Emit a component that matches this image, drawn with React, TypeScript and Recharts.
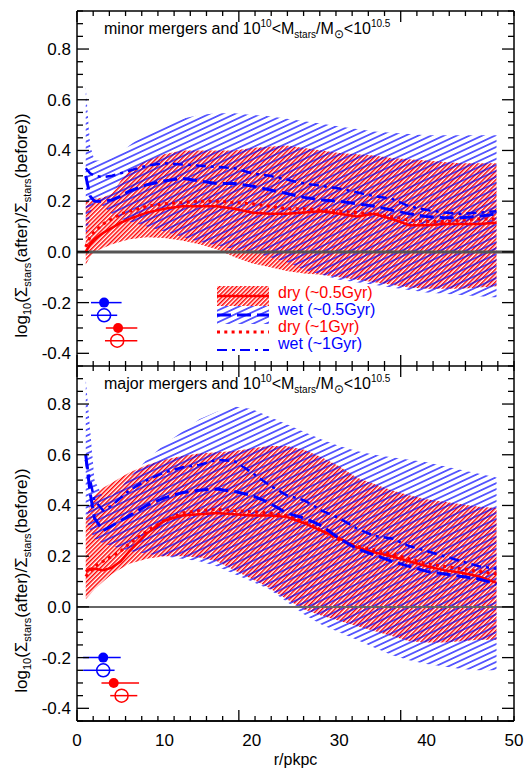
import React from 'react';
import {
  ComposedChart,
  Area,
  Line,
  Scatter,
  ErrorBar,
  XAxis,
  YAxis,
  ReferenceLine,
  Legend,
} from 'recharts';

// radii (pkpc) where the profiles are sampled
const radius = [1, 1.5, 2, 3, 4, 5, 6, 8, 10, 12, 14, 16, 18, 20, 22, 24, 26, 28, 30, 32, 34, 36, 38, 40, 42, 44, 46, 48];

// minor mergers, 10^10 < M*/Msun < 10^10.5
const minorDryLo = [-0.05, -0.02, 0.0, 0.015, 0.03, 0.04, 0.05, 0.058, 0.055, 0.045, 0.03, 0.01, -0.02, -0.045, -0.06, -0.075, -0.085, -0.09, -0.1, -0.11, -0.12, -0.13, -0.14, -0.145, -0.145, -0.145, -0.14, -0.135];
const minorDryHi = [0.2, 0.2, 0.21, 0.215, 0.23, 0.28, 0.32, 0.36, 0.385, 0.4, 0.4, 0.4, 0.4, 0.41, 0.415, 0.42, 0.41, 0.4, 0.39, 0.385, 0.38, 0.37, 0.365, 0.36, 0.355, 0.35, 0.35, 0.35];
const minorWetLo = [0.05, 0.15, 0.2, 0.18, 0.15, 0.13, 0.12, 0.1, 0.08, 0.06, 0.04, 0.025, 0.01, 0.0, -0.02, -0.04, -0.07, -0.09, -0.11, -0.12, -0.13, -0.14, -0.15, -0.16, -0.165, -0.17, -0.175, -0.18];
const minorWetHi = [0.65, 0.42, 0.36, 0.36, 0.37, 0.39, 0.42, 0.47, 0.5, 0.525, 0.54, 0.547, 0.547, 0.54, 0.535, 0.525, 0.515, 0.505, 0.495, 0.485, 0.475, 0.47, 0.465, 0.46, 0.46, 0.46, 0.46, 0.46];
const minorDry05 = [0.0, 0.03, 0.05, 0.075, 0.095, 0.115, 0.13, 0.155, 0.17, 0.18, 0.18, 0.18, 0.17, 0.155, 0.15, 0.15, 0.155, 0.16, 0.15, 0.14, 0.15, 0.13, 0.105, 0.105, 0.11, 0.11, 0.11, 0.115];
const minorDry1 = [0.02, 0.06, 0.08, 0.11, 0.13, 0.15, 0.16, 0.18, 0.19, 0.195, 0.2, 0.2, 0.195, 0.19, 0.18, 0.17, 0.17, 0.165, 0.16, 0.155, 0.15, 0.14, 0.125, 0.12, 0.12, 0.125, 0.13, 0.13];
const minorWet05 = [0.3, 0.22, 0.2, 0.2, 0.205, 0.22, 0.24, 0.265, 0.28, 0.29, 0.28, 0.27, 0.27, 0.26, 0.245, 0.23, 0.215, 0.205, 0.2, 0.19, 0.18, 0.165, 0.15, 0.14, 0.135, 0.135, 0.14, 0.15];
const minorWet1 = [0.33, 0.31, 0.3, 0.295, 0.3, 0.31, 0.32, 0.34, 0.35, 0.345, 0.34, 0.335, 0.33, 0.31, 0.3, 0.285, 0.27, 0.26, 0.25, 0.235, 0.22, 0.21, 0.18, 0.165, 0.155, 0.15, 0.155, 0.16];

// major mergers, 10^10 < M*/Msun < 10^10.5
const majorDryLo = [0.03, 0.05, 0.07, 0.1, 0.13, 0.15, 0.17, 0.19, 0.2, 0.2, 0.195, 0.18, 0.145, 0.11, 0.075, 0.03, -0.01, -0.035, -0.055, -0.075, -0.095, -0.115, -0.135, -0.14, -0.14, -0.135, -0.13, -0.13];
const majorDryHi = [0.35, 0.4, 0.44, 0.47, 0.49, 0.51, 0.53, 0.56, 0.58, 0.595, 0.605, 0.61, 0.615, 0.625, 0.635, 0.635, 0.62, 0.59, 0.555, 0.51, 0.485, 0.46, 0.44, 0.425, 0.415, 0.405, 0.395, 0.39];
const majorWetLo = [0.35, 0.3, 0.27, 0.25, 0.24, 0.23, 0.22, 0.21, 0.2, 0.19, 0.18, 0.16, 0.13, 0.1, 0.07, 0.02, -0.03, -0.07, -0.1, -0.13, -0.16, -0.19, -0.21, -0.225, -0.235, -0.245, -0.25, -0.25];
const majorWetHi = [0.9, 0.7, 0.5, 0.43, 0.44, 0.47, 0.51, 0.58, 0.64, 0.69, 0.74, 0.77, 0.79, 0.78, 0.75, 0.72, 0.69, 0.66, 0.635, 0.615, 0.6, 0.59, 0.58, 0.57, 0.555, 0.54, 0.525, 0.51];
const majorDry05 = [0.14, 0.15, 0.15, 0.145, 0.155, 0.18, 0.22, 0.29, 0.34, 0.36, 0.365, 0.37, 0.365, 0.36, 0.36, 0.355, 0.33, 0.3, 0.27, 0.235, 0.215, 0.2, 0.18, 0.16, 0.145, 0.135, 0.12, 0.095];
const majorDry1 = [0.12, 0.14, 0.16, 0.18, 0.2, 0.22, 0.25, 0.3, 0.34, 0.37, 0.38, 0.385, 0.38, 0.375, 0.37, 0.36, 0.335, 0.3, 0.265, 0.24, 0.225, 0.21, 0.19, 0.17, 0.16, 0.15, 0.14, 0.13];
const majorWet05 = [0.6, 0.45, 0.35, 0.3, 0.32, 0.34, 0.36, 0.4, 0.43, 0.45, 0.46, 0.465, 0.455, 0.44, 0.41, 0.37, 0.35, 0.32, 0.27, 0.23, 0.205, 0.18, 0.16, 0.14, 0.13, 0.12, 0.11, 0.09];
const majorWet1 = [0.58, 0.5, 0.42, 0.38, 0.4, 0.43, 0.46, 0.5, 0.53, 0.55, 0.56, 0.58, 0.575, 0.53, 0.48, 0.44, 0.42, 0.38, 0.35, 0.31, 0.28, 0.27, 0.24, 0.22, 0.2, 0.18, 0.16, 0.15];

// the four markers with horizontal error bars (blue filled, blue open, red filled, red open)
const markerY = [-0.2, -0.25, -0.3, -0.35];
const minorMarkerR = [3.1, 3.1, 4.7, 4.6];
const minorErrLo = [1.5, 1.5, 1.4, 1.4];
const minorErrHi = [2.0, 1.5, 2.2, 2.3];
const majorMarkerR = [3.0, 3.0, 4.2, 5.1];
const majorErrLo = [2.3, 2.3, 1.4, 1.3];
const majorErrHi = [2.0, 1.3, 2.9, 1.8];

const legendLabels = ['dry (~0.5Gyr)', 'wet (~0.5Gyr)', 'dry (~1Gyr)', 'wet (~1Gyr)'];

const xMajorTicks = [0, 10, 20, 30, 40, 50];
const xAllTicks = [0, 1, 2, 3, 4, 5, 6, 7, 8, 9, 10, 11, 12, 13, 14, 15, 16, 17, 18, 19, 20, 21, 22, 23, 24, 25, 26, 27, 28, 29, 30, 31, 32, 33, 34, 35, 36, 37, 38, 39, 40, 41, 42, 43, 44, 45, 46, 47, 48, 49, 50];
const yMajorTicks = [-0.4, -0.2, 0, 0.2, 0.4, 0.6, 0.8];
const yAllTicks = [-0.45, -0.4, -0.35, -0.3, -0.25, -0.2, -0.15, -0.1, -0.05, 0, 0.05, 0.1, 0.15, 0.2, 0.25, 0.3, 0.35, 0.4, 0.45, 0.5, 0.55, 0.6, 0.65, 0.7, 0.75, 0.8, 0.85, 0.9, 0.95];

const RED = '#ff0000';
const BLUE = '#0000ff';
const FONT = "'Liberation Sans', Arial, Helvetica, sans-serif";
const X_DOMAIN = [0, 50];
const Y_DOMAIN = [-0.45, 0.95];
const axisLine = { stroke: '#000', strokeWidth: 1.5 };

const buildRows = (dryLo, dryHi, wetLo, wetHi, dry05, dry1, wet05, wet1) =>
  radius.map((r, i) => ({
    r,
    dryBand: [dryLo[i], dryHi[i]],
    wetBand: [wetLo[i], wetHi[i]],
    dry05: dry05[i],
    dry1: dry1[i],
    wet05: wet05[i],
    wet1: wet1[i],
  }));

const buildMarkers = (rs, lo, hi) =>
  rs.map((r, i) => ({ r, y: markerY[i], err: [lo[i], hi[i]] }));

const minorRows = buildRows(minorDryLo, minorDryHi, minorWetLo, minorWetHi, minorDry05, minorDry1, minorWet05, minorWet1);
const majorRows = buildRows(majorDryLo, majorDryHi, majorWetLo, majorWetHi, majorDry05, majorDry1, majorWet05, majorWet1);
const minorMarkers = buildMarkers(minorMarkerR, minorErrLo, minorErrHi);
const majorMarkers = buildMarkers(majorMarkerR, majorErrLo, majorErrHi);

const onStep = (v, step) => Math.abs(v / step - Math.round(v / step)) < 1e-6;

function YLabelTick(props) {
  const { x, y, payload } = props;
  return (
    <text x={x - 6} y={y + 6} textAnchor="end" fontSize={17} fill="#000">
      {payload.value.toFixed(1)}
    </text>
  );
}

function XLabelTick(props) {
  const { x, y, payload } = props;
  return (
    <text x={x} y={y + 25} textAnchor="middle" fontSize={17} fill="#000">
      {payload.value}
    </text>
  );
}

// inward tick mark: dx/dy give the direction into the plot
function MarkTick(props) {
  const { x, y, payload, dx, dy, step, major, minor } = props;
  const len = onStep(payload.value, step) ? major : minor;
  return <line x1={x} y1={y} x2={x + dx * len} y2={y + dy * len} stroke="#000" strokeWidth={1.3} />;
}

function YTitle(props) {
  const vb = props.viewBox;
  const cx = vb.x + 27;
  const cy = vb.y + vb.height / 2 + 37;
  return (
    <text transform={`translate(${cx},${cy}) rotate(-90)`} textAnchor="middle" fontSize={17} fill="#000">
      log<tspan fontSize={11} dy={4}>10</tspan>
      <tspan dy={-4}>(Σ</tspan>
      <tspan fontSize={11} dy={4}>stars</tspan>
      <tspan dy={-4}>(after)/Σ</tspan>
      <tspan fontSize={11} dy={4}>stars</tspan>
      <tspan dy={-4}>(before))</tspan>
    </text>
  );
}

function XTitle(props) {
  const vb = props.viewBox;
  return (
    <text x={vb.x + vb.width / 2} y={vb.y + 44} textAnchor="middle" fontSize={16} fill="#000">
      r/pkpc
    </text>
  );
}

const supStyle = { fontSize: 10, position: 'relative', top: -7 } as const;
const subStyle = { fontSize: 10, position: 'relative', top: 4 } as const;

function PanelTitle({ kind, top }) {
  return (
    <div style={{ position: 'absolute', left: 104, top, fontSize: 16, lineHeight: '16px', whiteSpace: 'nowrap', color: '#000' }}>
      {kind} mergers and 10<span style={supStyle}>10</span>&lt;M<span style={subStyle}>stars</span>/M
      <span style={{ ...subStyle, fontSize: 12 }}>⊙</span>&lt;10<span style={supStyle}>10.5</span>
    </div>
  );
}

function LegendBox() {
  return (
    <div style={{ position: 'relative', width: 180, height: 72, fontFamily: FONT }}>
      <svg width={52} height={72} style={{ position: 'absolute', left: 0, top: 0 }}>
        <defs>
          <pattern id="lg-red" patternUnits="userSpaceOnUse" width="3" height="3" patternTransform="rotate(45)">
            <rect width="1.5" height="3" fill={RED} />
          </pattern>
          <pattern id="lg-blue" patternUnits="userSpaceOnUse" width="10" height="5.4" patternTransform="rotate(-25)">
            <line x1="0" x2="10" y1="2.7" y2="2.7" stroke={BLUE} strokeWidth="1.2" />
          </pattern>
        </defs>
        <rect x={0} y={2} width={52} height={20} fill="url(#lg-red)" />
        <line x1={0} x2={52} y1={12} y2={12} stroke={RED} strokeWidth={2.5} />
        <rect x={0} y={22} width={52} height={18} fill="url(#lg-blue)" />
        <line x1={0} x2={52} y1={31} y2={31} stroke={BLUE} strokeWidth={3} strokeDasharray="14 6" />
        <line x1={0} x2={52} y1={48} y2={48} stroke={RED} strokeWidth={3} strokeDasharray="3 4.3" />
        <line x1={0} x2={52} y1={66} y2={66} stroke={BLUE} strokeWidth={2} strokeDasharray="10 5 3 5" />
      </svg>
      <div style={{ position: 'absolute', left: 61, top: 0, fontSize: 16, lineHeight: '17px', whiteSpace: 'nowrap' }}>
        {legendLabels.map((t, i) => (
          <div key={t} style={{ color: i % 2 === 0 ? RED : BLUE }}>{t}</div>
        ))}
      </div>
    </div>
  );
}

const markerStyles = [
  { color: BLUE, open: false },
  { color: BLUE, open: true },
  { color: RED, open: false },
  { color: RED, open: true },
];

const markProps = { tickSize: 0, tickMargin: 0, tickLine: false, interval: 0, allowDataOverflow: true, mirror: true, type: 'number' } as const;

function Panel({ id, rows, markers, top, height, marginTop, bottomHeight, showLegend, zeroColor, zeroWidth }) {
  const last = bottomHeight > 0;
  return (
    <div style={{ position: 'absolute', left: 0, top }}>
      <ComposedChart width={524} height={height} data={rows} margin={{ top: marginTop, right: 10, bottom: 0, left: 0 }}>
        <defs>
          <pattern id={`${id}-red`} patternUnits="userSpaceOnUse" width="3" height="3" patternTransform="rotate(45)">
            <rect width="1.5" height="3" fill={RED} />
          </pattern>
          <pattern id={`${id}-blue`} patternUnits="userSpaceOnUse" width="10" height="5.4" patternTransform="rotate(-25)">
            <line x1="0" x2="10" y1="2.7" y2="2.7" stroke={BLUE} strokeWidth="1.2" />
          </pattern>
        </defs>
        <XAxis
          dataKey="r"
          type="number"
          domain={X_DOMAIN}
          allowDataOverflow
          ticks={xMajorTicks}
          interval={0}
          height={bottomHeight}
          tickSize={0}
          tickMargin={0}
          tickLine={false}
          axisLine={last ? axisLine : false}
          tick={last ? (p) => <XLabelTick {...p} /> : false}
          label={last ? (p) => <XTitle {...p} /> : undefined}
        />
        <YAxis
          type="number"
          domain={Y_DOMAIN}
          allowDataOverflow
          ticks={yMajorTicks}
          interval={0}
          width={77}
          tickSize={0}
          tickMargin={0}
          tickLine={false}
          axisLine={axisLine}
          tick={(p) => <YLabelTick {...p} />}
          label={(p) => <YTitle {...p} />}
        />
        {/* mirrored axes that only carry the inward tick marks of the frame */}
        <XAxis {...markProps} xAxisId="bMark" orientation="bottom" domain={X_DOMAIN} ticks={xAllTicks} height={14} axisLine={axisLine}
          tick={(p) => <MarkTick {...p} dx={0} dy={-1} step={10} major={11} minor={5} />} />
        <XAxis {...markProps} xAxisId="tMark" orientation="top" domain={X_DOMAIN} ticks={xAllTicks} height={14} axisLine={axisLine}
          tick={(p) => <MarkTick {...p} dx={0} dy={1} step={10} major={11} minor={5} />} />
        <YAxis {...markProps} yAxisId="lMark" orientation="left" domain={Y_DOMAIN} ticks={yAllTicks} width={14} axisLine={false}
          tick={(p) => <MarkTick {...p} dx={1} dy={0} step={0.2} major={12} minor={6} />} />
        <YAxis {...markProps} yAxisId="rMark" orientation="right" domain={Y_DOMAIN} ticks={yAllTicks} width={14} axisLine={axisLine}
          tick={(p) => <MarkTick {...p} dx={-1} dy={0} step={0.2} major={12} minor={6} />} />
        <Area dataKey="dryBand" type="linear" stroke="none" fill={`url(#${id}-red)`} fillOpacity={1} isAnimationActive={false} />
        <Area dataKey="wetBand" type="linear" stroke="none" fill={`url(#${id}-blue)`} fillOpacity={1} isAnimationActive={false} />
        <ReferenceLine y={0} stroke={zeroColor} strokeWidth={zeroWidth} />
        <Line dataKey="dry05" type="linear" stroke={RED} strokeWidth={2.5} dot={false} isAnimationActive={false} />
        <Line dataKey="dry1" type="linear" stroke={RED} strokeWidth={3} strokeDasharray="3 4.3" dot={false} isAnimationActive={false} />
        <Line dataKey="wet05" type="linear" stroke={BLUE} strokeWidth={3} strokeDasharray="14 6" dot={false} isAnimationActive={false} />
        <Line dataKey="wet1" type="linear" stroke={BLUE} strokeWidth={2.5} strokeDasharray="10 5 3 5" dot={false} isAnimationActive={false} />
        {markers.map((m, i) => {
          const st = markerStyles[i];
          return (
            <Scatter
              key={i}
              data={[m]}
              dataKey="y"
              isAnimationActive={false}
              shape={(p) =>
                st.open ? (
                  <circle cx={p.cx} cy={p.cy} r={6.5} fill="none" stroke={st.color} strokeWidth={1.5} />
                ) : (
                  <circle cx={p.cx} cy={p.cy} r={5} fill={st.color} />
                )
              }
            >
              <ErrorBar dataKey="err" direction="x" width={0} stroke={st.color} strokeWidth={1.5} isAnimationActive={false} />
            </Scatter>
          );
        })}
        {showLegend && (
          <Legend
            layout="vertical"
            align="center"
            verticalAlign="middle"
            content={() => <LegendBox />}
            wrapperStyle={{ left: 217, top: 284, width: 180, height: 72 }}
          />
        )}
      </ComposedChart>
    </div>
  );
}

export default function App() {
  return (
    <div style={{ position: 'absolute', left: 0, top: 0, width: 524, height: 773, background: '#fff', fontFamily: FONT }}>
      <Panel
        id="minor"
        rows={minorRows}
        markers={minorMarkers}
        top={0}
        height={366}
        marginTop={11}
        bottomHeight={0}
        showLegend
        zeroColor="#555"
        zeroWidth={3}
      />
      <Panel
        id="major"
        rows={majorRows}
        markers={majorMarkers}
        top={366}
        height={407}
        marginTop={0}
        bottomHeight={52}
        showLegend={false}
        zeroColor="#666"
        zeroWidth={2}
      />
      <PanelTitle kind="minor" top={21} />
      <PanelTitle kind="major" top={376} />
    </div>
  );
}
